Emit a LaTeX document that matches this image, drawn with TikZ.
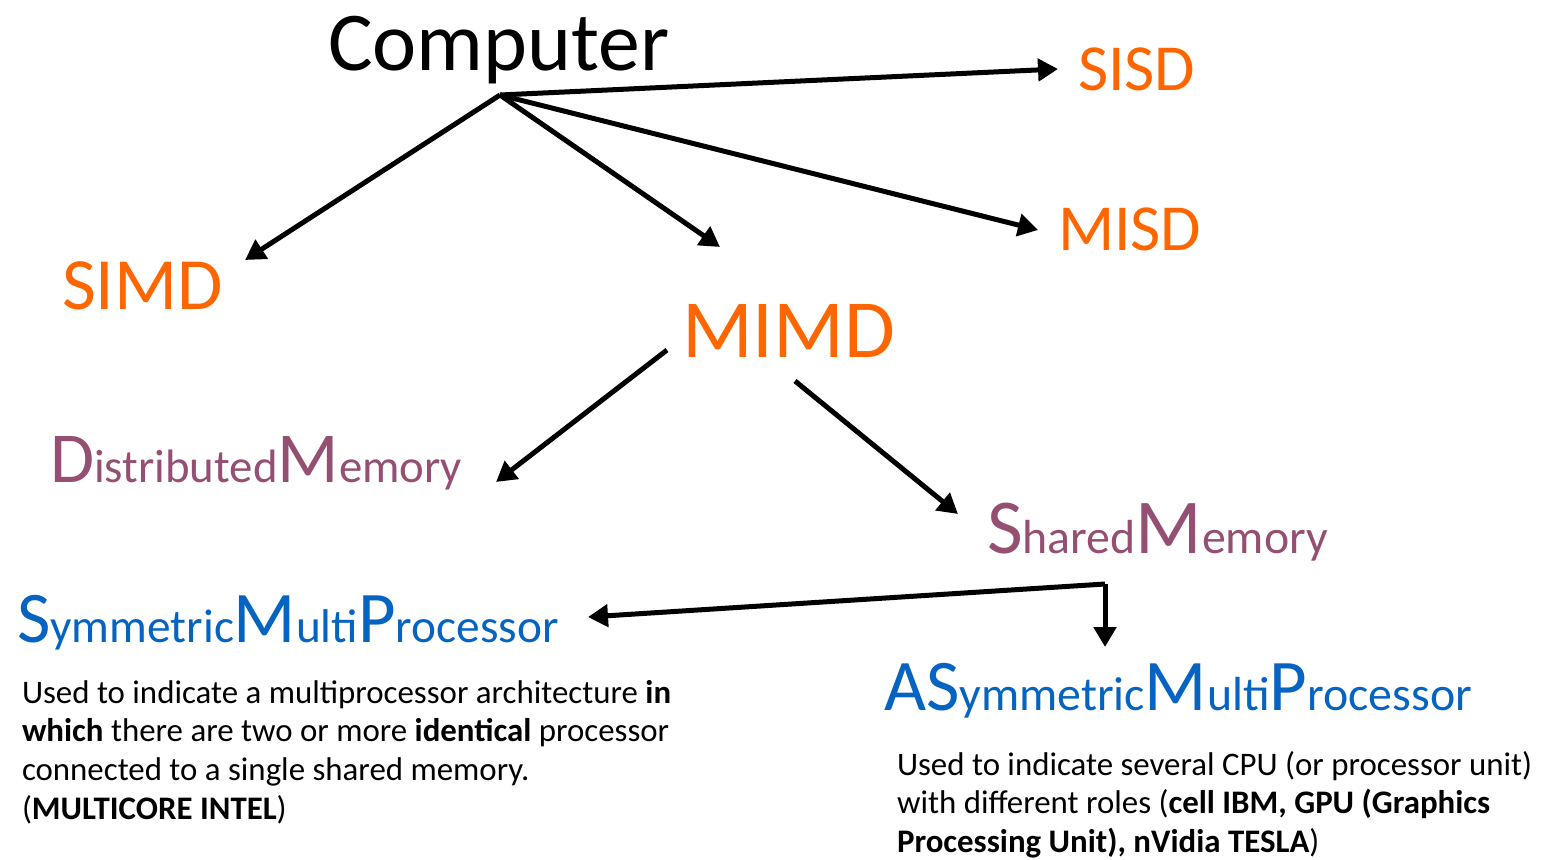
\documentclass[tikz,border=0pt]{standalone}
\usepackage{fontspec}
\setmainfont{Carlito}
\usetikzlibrary{arrows.meta}
\definecolor{orng}{HTML}{FF6600}
\definecolor{purp}{HTML}{954F72}
\definecolor{blu}{HTML}{0563C1}
\newcommand{\fs}[1]{\fontsize{#1}{#1}\selectfont}
\begin{document}
\begin{tikzpicture}[x=1bp,y=-1bp,
  lbl/.style={inner sep=0pt,outer sep=0pt,anchor=base west},
  flynn/.style={lbl,text=orng},
  memlbl/.style={lbl,text=purp},
  proclbl/.style={lbl,text=blu},
  desc/.style={inner sep=0pt,outer sep=0pt,anchor=north west,align=left,font=\fontsize{33}{39}\selectfont},
  arr/.style={line width=5bp,-{Triangle[length=20bp,width=22bp]},line join=miter}]
\useasboundingbox (0,0) rectangle (1543,859);
% labels
\node[lbl,font=\fs{84}] (comp) at (328,70) {Computer};
\node[flynn,font=\fs{66}] (sisd) at (1078,90) {SISD};
\node[flynn,font=\fs{66}] (misd) at (1058,250) {MISD};
\node[flynn,font=\fs{74}] (simd) at (62,309) {SIMD};
\node[flynn,font=\fs{83}] (mimd) at (682,357) {MIMD};
\node[memlbl] (dm) at (50,482) {{\fs{72}D}{\fs{47}istributed}{\fs{72}M}{\fs{47}emory}};
\node[memlbl] (sm) at (987,553) {{\fs{78}S}{\fs{48}hared}{\fs{78}M}{\fs{48}emory}};
\node[proclbl] (smp) at (17,642) {{\fs{73}S}{\fs{47.5}ymmetric}{\fs{73}M}{\fs{47.5}ulti}{\fs{73}P}{\fs{47.5}rocessor}};
\node[proclbl] (asmp) at (884,710) {{\fs{73}AS}{\fs{48}ymmetric}{\fs{73}M}{\fs{48}ulti}{\fs{73}P}{\fs{48}rocessor}};
\node[desc] (smpdesc) at (22,680) {Used to indicate a multiprocessor architecture \textbf{in}\\
\textbf{which} there are two or more \textbf{identical} processor\\
connected to a single shared memory.\\
(\textbf{MULTICORE INTEL})};
\node[desc] (asmpdesc) at (897,751) {Used to indicate several CPU (or processor unit)\\
with different roles (\textbf{cell IBM, GPU (Graphics}\\
\textbf{Processing Unit), nVidia TESLA})};
% connector end points
\coordinate (comp-o) at (500,95);
\coordinate (sisd-in) at (1058,69);
\coordinate (misd-in) at (1038,230);
\coordinate (mimd-in) at (720,247);
\coordinate (simd-in) at (245,260);
\coordinate (mimd-l) at (667,350);
\coordinate (mimd-r) at (795,381);
\coordinate (dm-in) at (496,482);
\coordinate (sm-in) at (958,514);
\coordinate (sm-o) at (1105,584);
\coordinate (smp-in) at (588,617);
\coordinate (asmp-in) at (1105,647);
% connectors
\draw[arr] (comp-o) -- (sisd-in);
\draw[arr] (comp-o) -- (misd-in);
\draw[arr] (comp-o) -- (mimd-in);
\draw[arr] (comp-o) -- (simd-in);
\draw[arr] (mimd-l) -- (dm-in);
\draw[arr] (mimd-r) -- (sm-in);
\draw[arr] (sm-o) -- (smp-in);
\draw[arr] (sm-o) -- (asmp-in);
\end{tikzpicture}
\end{document}
